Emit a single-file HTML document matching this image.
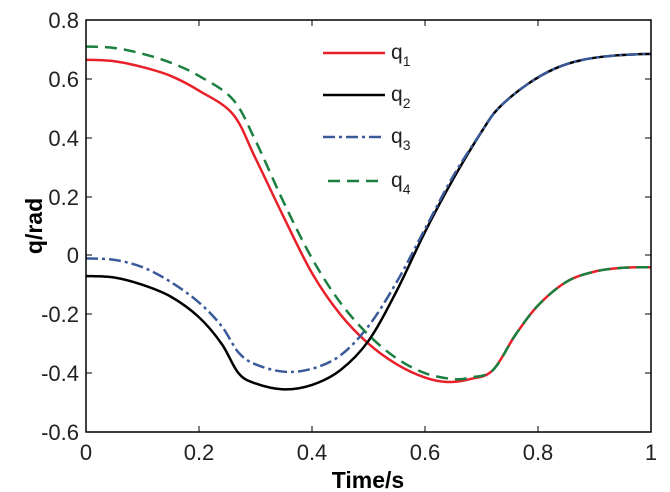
<!DOCTYPE html>
<html><head><style>
body{margin:0;background:#fff}
svg{display:block}
text{font-family:"Liberation Sans",Arial,sans-serif}
</style></head><body>
<svg id="s" width="670" height="492" xmlns="http://www.w3.org/2000/svg">
<g font-size="22" fill="#222" text-anchor="end">
<text x="79" y="28" transform="scale(1,1)">0.8</text>
<text x="79" y="87">0.6</text>
<text x="79" y="146">0.4</text>
<text x="79" y="205">0.2</text>
<text x="79" y="263">0</text>
<text x="79" y="322">-0.2</text>
<text x="79" y="381">-0.4</text>
<text x="79" y="440">-0.6</text>
</g>
<g font-size="22" fill="#222" text-anchor="middle">
<text x="86" y="460">0</text>
<text x="199" y="460">0.2</text>
<text x="312" y="460">0.4</text>
<text x="425" y="460">0.6</text>
<text x="538" y="460">0.8</text>
<text x="651" y="460">1</text>
</g>
<text x="368" y="488" font-size="23" font-weight="bold" text-anchor="middle">Time/s</text>
<text transform="translate(42,226) rotate(-90)" font-size="23" font-weight="bold" text-anchor="middle">q/rad</text>
<g id="curves" fill="none" stroke-width="2.5"></g>
<rect x="86" y="20" width="565" height="412" fill="none" stroke="#000" stroke-width="1.5"/>
<g stroke="#000" stroke-width="1">
<line x1="199" y1="432" x2="199" y2="426"/><line x1="312" y1="432" x2="312" y2="426"/><line x1="425" y1="432" x2="425" y2="426"/><line x1="538" y1="432" x2="538" y2="426"/>
<line x1="199" y1="20" x2="199" y2="26"/><line x1="312" y1="20" x2="312" y2="26"/><line x1="425" y1="20" x2="425" y2="26"/><line x1="538" y1="20" x2="538" y2="26"/>
<line x1="86" y1="79" x2="92" y2="79"/><line x1="86" y1="138" x2="92" y2="138"/><line x1="86" y1="197" x2="92" y2="197"/><line x1="86" y1="255" x2="92" y2="255"/><line x1="86" y1="314" x2="92" y2="314"/><line x1="86" y1="373" x2="92" y2="373"/>
<line x1="651" y1="79" x2="645" y2="79"/><line x1="651" y1="138" x2="645" y2="138"/><line x1="651" y1="197" x2="645" y2="197"/><line x1="651" y1="255" x2="645" y2="255"/><line x1="651" y1="314" x2="645" y2="314"/><line x1="651" y1="373" x2="645" y2="373"/>
</g>
<g stroke-width="2.5">
<line x1="323" y1="53" x2="385" y2="53" stroke="#e8202a"/>
<line x1="323" y1="95" x2="385" y2="95" stroke="#000"/>
<line x1="323" y1="137" x2="385" y2="137" stroke="#3a5a9a" stroke-dasharray="12,4,3,4"/>
<line x1="328" y1="181" x2="385" y2="181" stroke="#1a8040" stroke-dasharray="12,7"/>
</g>
<g font-size="21" fill="#222">
<text x="391" y="59">q<tspan font-size="14" dy="7">1</tspan></text>
<text x="391" y="101">q<tspan font-size="14" dy="7">2</tspan></text>
<text x="391" y="143">q<tspan font-size="14" dy="7">3</tspan></text>
<text x="391" y="187">q<tspan font-size="14" dy="7">4</tspan></text>
</g>
</svg>
<script>
function X(t){return 86+565*t}function Y(v){return 20+(0.8-v)*294.3}
function path(p){var pts=p.map(a=>[X(a[0]),Y(a[1])]);var d="M"+pts[0][0]+","+pts[0][1];
for(var i=0;i<pts.length-1;i++){var p0=pts[Math.max(i-1,0)],p1=pts[i],p2=pts[i+1],p3=pts[Math.min(i+2,pts.length-1)];
var c1=[p1[0]+(p2[0]-p0[0])/6,p1[1]+(p2[1]-p0[1])/6],c2=[p2[0]-(p3[0]-p1[0])/6,p2[1]-(p3[1]-p1[1])/6];
d+=" C"+c1+" "+c2+" "+p2;}return d;}
var tail=[[0.72,-0.39],[0.76,-0.27],[0.8,-0.17],[0.85,-0.09],[0.9,-0.055],[0.95,-0.042],[1,-0.04]];
var q1=[[0,0.665],[0.05,0.66],[0.1,0.64],[0.15,0.61],[0.2,0.56],[0.26,0.48],[0.3,0.33],[0.35,0.13],[0.4,-0.06],[0.45,-0.2],[0.5,-0.3],[0.55,-0.37],[0.6,-0.415],[0.64,-0.43],[0.68,-0.42]].concat(tail);
var q4=[[0,0.71],[0.05,0.705],[0.1,0.685],[0.15,0.655],[0.2,0.61],[0.26,0.53],[0.3,0.39],[0.35,0.18],[0.4,-0.01],[0.45,-0.16],[0.5,-0.27],[0.55,-0.35],[0.6,-0.4],[0.65,-0.42],[0.68,-0.415]].concat(tail);
var up=[[0.73,0.5],[0.78,0.58],[0.83,0.635],[0.88,0.665],[0.94,0.68],[1,0.685]];
var q2=[[0,-0.07],[0.05,-0.075],[0.1,-0.1],[0.15,-0.14],[0.2,-0.21],[0.24,-0.3],[0.27,-0.4],[0.3,-0.435],[0.35,-0.455],[0.4,-0.44],[0.45,-0.39],[0.5,-0.29],[0.55,-0.12],[0.6,0.08],[0.65,0.26],[0.7,0.42]].concat(up);
var q3=[[0,-0.01],[0.05,-0.015],[0.1,-0.04],[0.15,-0.09],[0.2,-0.16],[0.24,-0.24],[0.27,-0.33],[0.3,-0.37],[0.35,-0.395],[0.4,-0.385],[0.45,-0.34],[0.5,-0.24],[0.55,-0.09],[0.6,0.09],[0.65,0.27],[0.7,0.42]].concat(up);
var g=document.getElementById("curves");
function add(d,c,da){var e=document.createElementNS("http://www.w3.org/2000/svg","path");e.setAttribute("d",path(d));e.setAttribute("stroke",c);if(da)e.setAttribute("stroke-dasharray",da);g.appendChild(e);}
add(q1,"#e8202a");add(q2,"#000");add(q3,"#3a5a9a","12,4,3,4");add(q4,"#1a8040","12,7");
</script>
</body></html>
